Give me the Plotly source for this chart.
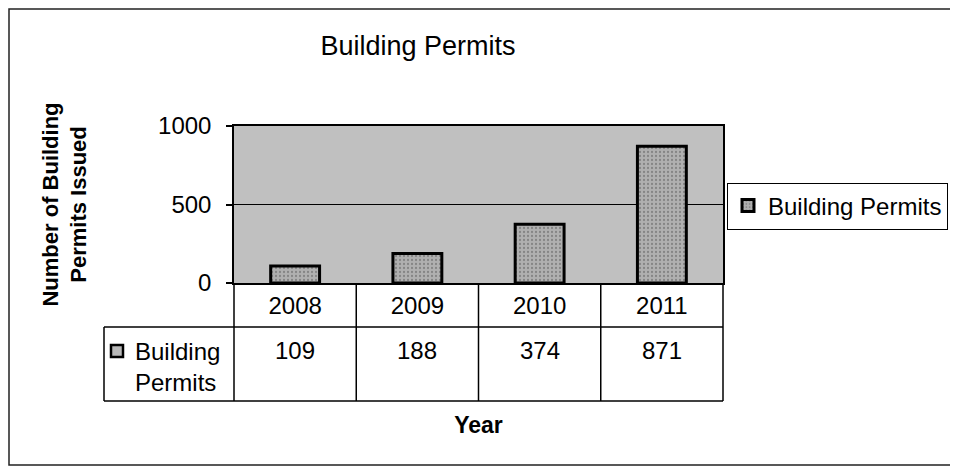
import plotly.graph_objects as go

# ---- data ----
years = ["2008", "2009", "2010", "2011"]
permits = [109, 188, 374, 871]
series_name = "Building Permits"
y_ticks = [0, 500, 1000]

# the page body keeps an 8px margin, so the figure is sized to fit inside the window
OFF = 8
W, H = 958 - OFF, 468 - OFF
def px(x):
    return (x - OFF) / W
def py(y):
    return 1 - (y - OFF) / H

PL, PR, PT, PB = 234, 723, 126, 283   # plot area in page pixels
FONT = "Liberation Sans, Arial, sans-serif"

fig = go.Figure()
fig.add_trace(go.Bar(
    x=years, y=permits, name=series_name, width=0.4,
    marker=dict(
        color="#a4a4a4",
        line=dict(color="black", width=3),
        pattern=dict(shape=".", bgcolor="#b0b0b0", fgcolor="#5a5a5a", size=4, solidity=0.25),
    ),
    showlegend=True,
))

shapes = []
# outer chart border
shapes.append(dict(type="rect", xref="paper", yref="paper", x0=px(9), x1=px(970), y0=py(9), y1=py(465),
                   line=dict(color="#222", width=1.5), fillcolor="rgba(0,0,0,0)", layer="below"))
# data table grid: column boundaries follow the category axis domain
n = len(years)
for i in range(n + 1):
    shapes.append(dict(type="line", xref="x domain", yref="paper", x0=i / n, x1=i / n,
                       y0=py(PB), y1=py(401), line=dict(color="black", width=1.5)))
for yy in (327, 401):
    shapes.append(dict(type="line", xref="paper", yref="paper", x0=px(104), x1=px(PR),
                       y0=py(yy), y1=py(yy), line=dict(color="black", width=1.5)))
shapes.append(dict(type="line", xref="paper", yref="paper", x0=px(104), x1=px(104),
                   y0=py(327), y1=py(401), line=dict(color="black", width=1.5)))
# legend key inside the table
shapes.append(dict(type="rect", xref="paper", yref="paper", x0=px(111), x1=px(123), y0=py(345), y1=py(357),
                   line=dict(color="black", width=2.5), fillcolor="#b8b8b8"))

annotations = []
for i, v in enumerate(permits):
    annotations.append(dict(x=i, xref="x", y=py(350), yref="paper", text=str(v), showarrow=False,
                            font=dict(size=24, color="black", family=FONT), xanchor="center", yanchor="middle"))
annotations.append(dict(x=px(133), xref="paper", y=py(367), yref="paper",
                        text="Building<br>Permits", showarrow=False, align="left",
                        font=dict(size=24, color="black", family=FONT), xanchor="left", yanchor="middle"))

fig.update_layout(
    width=W, height=H,
    margin=dict(l=0, r=0, t=0, b=0),
    paper_bgcolor="white",
    plot_bgcolor="#c0c0c0",
    font=dict(family=FONT, size=24, color="black"),
    title=dict(text=series_name, x=px(418), xanchor="center", y=py(46), yanchor="middle",
               font=dict(size=27, family=FONT, color="black")),
    xaxis=dict(type="category", domain=[px(PL), px(PR)], range=[-0.5, n - 0.5],
               showline=True, linecolor="black", linewidth=1.5, mirror=True, ticks="",
               showgrid=False, tickfont=dict(size=24), automargin=False,
               title=dict(text="<b>Year</b>", font=dict(size=23), standoff=99)),
    yaxis=dict(domain=[py(PB), py(PT)], range=[0, 1000], tickvals=y_ticks,
               showline=True, linecolor="black", linewidth=1.5, mirror=True,
               ticks="outside", ticklen=6, tickcolor="black", tickwidth=1.5,
               showgrid=True, gridcolor="black", gridwidth=1, zeroline=False,
               tickfont=dict(size=24), ticklabelstandoff=10, automargin=False,
               title=dict(text="<b>Number of Building<br>Permits Issued</b>", font=dict(size=22), standoff=65)),
    legend=dict(x=px(727), xanchor="left", y=py(206), yanchor="middle",
                bordercolor="black", borderwidth=1, bgcolor="white",
                font=dict(size=24, family=FONT)),
    shapes=shapes,
    annotations=annotations,
    bargap=0.6,
)

fig.write_html("out.html")
